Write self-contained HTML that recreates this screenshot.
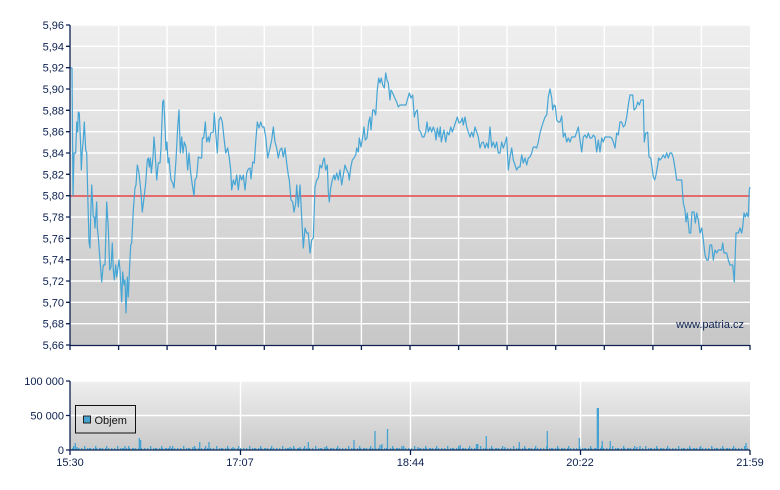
<!DOCTYPE html>
<html><head><meta charset="utf-8"><style>
html,body{margin:0;padding:0;background:#fff;}
svg{display:block;}
text{font-family:"Liberation Sans",Arial,sans-serif;font-size:11px;fill:#0c2050;}
</style></head><body>
<svg width="780" height="490" viewBox="0 0 780 490" xmlns="http://www.w3.org/2000/svg">
<defs>
<linearGradient id="g1" x1="0" y1="0" x2="0" y2="1"><stop offset="0" stop-color="#efefef"/><stop offset="1" stop-color="#c7c7c7"/></linearGradient>
<linearGradient id="g2" x1="0" y1="0" x2="0" y2="1"><stop offset="0" stop-color="#efefef"/><stop offset="1" stop-color="#c9c9c9"/></linearGradient>
<pattern id="pA" x="72" y="448" width="3" height="2" patternUnits="userSpaceOnUse"><rect x="0" y="0" width="1.3" height="2" fill="#45a3d2"/></pattern>
<pattern id="pB" x="73" y="446" width="11" height="4" patternUnits="userSpaceOnUse"><rect x="0" y="0" width="1.3" height="4" fill="#45a3d2"/><rect x="5" y="2" width="1.3" height="2" fill="#45a3d2"/></pattern>
</defs>
<!-- main plot -->
<rect x="70" y="25" width="680" height="320" fill="url(#g1)"/>
<g stroke="#ffffff" stroke-width="1.4">
<line x1="70" y1="25" x2="750" y2="25"/>
<line x1="70" y1="46.3" x2="750" y2="46.3"/>
<line x1="70" y1="67.7" x2="750" y2="67.7"/>
<line x1="70" y1="89" x2="750" y2="89"/>
<line x1="70" y1="110.3" x2="750" y2="110.3"/>
<line x1="70" y1="131.7" x2="750" y2="131.7"/>
<line x1="70" y1="153" x2="750" y2="153"/>
<line x1="70" y1="174.3" x2="750" y2="174.3"/>
<line x1="70" y1="217" x2="750" y2="217"/>
<line x1="70" y1="238.3" x2="750" y2="238.3"/>
<line x1="70" y1="259.7" x2="750" y2="259.7"/>
<line x1="70" y1="281" x2="750" y2="281"/>
<line x1="70" y1="302.3" x2="750" y2="302.3"/>
<line x1="70" y1="323.7" x2="750" y2="323.7"/>
<line x1="118.6" y1="25" x2="118.6" y2="345"/>
<line x1="167.1" y1="25" x2="167.1" y2="345"/>
<line x1="215.7" y1="25" x2="215.7" y2="345"/>
<line x1="264.3" y1="25" x2="264.3" y2="345"/>
<line x1="312.9" y1="25" x2="312.9" y2="345"/>
<line x1="361.4" y1="25" x2="361.4" y2="345"/>
<line x1="410" y1="25" x2="410" y2="345"/>
<line x1="458.6" y1="25" x2="458.6" y2="345"/>
<line x1="507.1" y1="25" x2="507.1" y2="345"/>
<line x1="555.7" y1="25" x2="555.7" y2="345"/>
<line x1="604.3" y1="25" x2="604.3" y2="345"/>
<line x1="652.9" y1="25" x2="652.9" y2="345"/>
<line x1="701.4" y1="25" x2="701.4" y2="345"/>
</g>
<line x1="70" y1="196" x2="750" y2="196" stroke="#e36b6b" stroke-width="2"/>
<polyline fill="none" stroke="#45a5d5" stroke-width="1.2" stroke-linejoin="round" points="70,68 72,68 73,196 74,153 75.7,153 76.7,122 77.7,132 78.3,112 79.3,113 80.7,147 81.3,170 82.3,150 83.3,140 84.3,122 85.7,150 86.7,153 87.7,193 89,242 90,248 90.7,217 91.7,185 93.3,217 94.3,217 95,228 96.7,202 97.3,228 98.3,237 100,260 101.7,282 103.3,265 105,265 106.7,202 108.3,228 109.7,270 111,267 112.3,243 113.3,270 114.3,280 115.7,265 116.7,277 117.7,270 119,260 120,270 121.7,302 122.7,272 124,285 125,280 126,313 127.3,277 128.3,297 129.7,265 130.7,245 131.7,243 133.3,210 135,188 136,185 137.3,165 139,173 141,193 142.3,212 144,198 145.7,183 147.3,160 148.3,158 149.3,167 150.3,158 151.3,173 153,157 154,137 155,150 156.7,180 158.3,163 160,163 161,148 162.7,102 163.7,100 164.7,120 166,150 167,142 168,163 169,158 170,170 171,180 172.7,183 174,188 176,160 177.7,127 179,110 180.3,153 181.7,137 183,153 184.3,142 186,147 187.7,170 189,153 190.7,173 192.3,185 194,196 195,180 196.7,177 198.3,157 200,158 201.7,158 202.3,138 203.7,138 205.3,122 206.7,142 208.3,137 209.3,142 210.7,133 213.3,132 214.3,113 215.7,133 217.3,153 219,120 220.7,117 222.3,122 224,138 225.7,153 227.7,148 229.3,158 230.7,170 231.7,190 233.3,180 235,185 236.7,175 238.3,190 240,175 241.7,180 243.3,175 245,190 246.7,173 248.3,169 250,168 251,179 252.7,162 254.3,163 255.7,142 257.3,122 259,128 260.7,122 262.3,127 264,127 265.7,137 267.7,158 270,148 271.7,140 273.3,127 275,142 276.7,148 278.3,158 280,150 281.7,148 283.3,157 285,148 286.7,163 288.3,175 289.3,180 291,200 292.7,202 294,212 295.7,203 296.7,185 298.3,207 300,185 301.7,217 303.3,248 305,228 306.7,233 308.3,233 310,253 311.7,240 313.3,238 315,187 316.7,180 318.3,178 320,165 321.7,168 323.3,160 324.3,158 325.7,170 327.3,165 328.3,192 329.3,202 330.7,188 332.3,180 334,175 335,180 336.7,173 338.3,180 340,170 341.7,185 343.3,175 345,165 346.7,170 348.3,173 349.3,180 350.7,168 352.3,160 354,158 355.7,155 356.7,148 358.3,152 359.3,138 361,147 362.7,137 364,127 365.3,140 367,138 368.7,122 370,117 371,130 372.7,110 374,110 375.7,115 377.3,90 378.7,78 380,83 381.3,78 382.7,85 384.3,88 385.7,73 387,80 388.3,83 390,100 391,90 392.7,93 394.3,97 396.7,102 398.3,107 400,105 403.3,105 406,105 407.3,100 409.3,93 411,98 412.7,95 414.3,117 415.7,112 417.3,110 419,130 420.7,132 422.3,137 424,137 425.7,132 427,122 428.3,132 430,127 431.7,132 433.3,127 435,132 436,140 437.3,128 439,137 440.3,127 441.3,142 442.7,135 444,130 445.7,142 447.3,132 449,135 450.7,127 452.3,132 454,127 455.7,122 457.3,117 459,123 460.7,122 462.3,118 463.3,125 465,117 466.7,127 468.3,132 470,137 471.7,132 473.3,137 475,127 476.7,132 478.3,137 480,148 481.7,143 483.3,142 485,148 486.7,143 488.3,148 490,127 491.7,147 493.3,142 495,148 496.7,142 498.3,153 500,153 501.7,142 503.3,148 505,143 506.7,137 508.3,170 510,157 511.7,148 513.3,160 515,165 516.7,170 518.3,167 520,167 521.7,155 523.3,163 525,158 526.7,165 528.3,158 530,157 531.7,153 533.3,147 535,147 536.7,148 538.3,142 540,133 541.7,127 543.3,122 545,117 546.7,115 548.3,97 550,89 551.7,98 552.7,110 554,105 555.3,106 556.7,120 558.3,122 560,122 561.7,116 563.3,137 565,133 566.7,142 568.3,138 570,142 571.7,137 573.3,137 575,137 576.7,132 578.3,127 580,140 581.7,152 583.3,137 585,135 586.7,138 588.3,133 590,138 591.7,138 593.3,135 595,137 596.7,152 598.3,140 600,152 601.7,138 603.3,142 605,137 606.7,137 610,137 611.7,138 613.3,142 615,148 616.7,133 618.3,135 620,122 621.7,122 623.3,127 625,125 626.7,117 628.3,105 630,95 632.7,95 634,110 636,108 637.7,102 639.3,105 641,100 643.3,100 644.3,142 645.7,133 646.7,133 647.7,132 649,157 650.7,158 652,167 653.3,177 654.7,180 656,175 657.7,165 658.7,158 660,160 661.7,158 663.3,155 665,158 666.7,153 668.3,158 670,153 671.7,153 673.3,158 675,168 676.7,180 681.7,180 683.3,203 685,210 686,222 687.3,213 689.3,233 690.7,233 692,212 694,212 695.3,223 696.7,213 698.3,220 700,233 701.7,228 703.3,240 705,255 706.7,260 708.3,260 710,245 711.7,245 713.3,260 715,250 716.7,253 718.3,250 721.7,250 722.7,243 724,253 726.7,253 728.3,260 730,265 732.7,265 734.3,282 736,233 738.3,233 740,228 741.7,233 742.7,227 744,213 745.3,217 746.7,213 748.3,217 749.3,190 750,187"/>
<!-- main axes -->
<g stroke="#0c2050" stroke-width="1.3">
<line x1="70" y1="25" x2="70" y2="346"/>
<line x1="70" y1="345.5" x2="750" y2="345.5"/>
<path d="M66 25H70M66 46.3H70M66 67.7H70M66 89H70M66 110.3H70M66 131.7H70M66 153H70M66 174.3H70M66 195.7H70M66 217H70M66 238.3H70M66 259.7H70M66 281H70M66 302.3H70M66 323.7H70M66 345H70"/>
<path d="M70 345V350M118.6 345V350M167.1 345V350M215.7 345V350M264.3 345V350M312.9 345V350M361.4 345V350M410 345V350M458.6 345V350M507.1 345V350M555.7 345V350M604.3 345V350M652.9 345V350M701.4 345V350M750 345V350"/>
</g>
<g text-anchor="end">
<text x="64" y="29">5,96</text>
<text x="64" y="50.3">5,94</text>
<text x="64" y="71.7">5,92</text>
<text x="64" y="93">5,90</text>
<text x="64" y="114.3">5,88</text>
<text x="64" y="135.7">5,86</text>
<text x="64" y="157">5,84</text>
<text x="64" y="178.3">5,82</text>
<text x="64" y="199.7">5,80</text>
<text x="64" y="221">5,78</text>
<text x="64" y="242.3">5,76</text>
<text x="64" y="263.7">5,74</text>
<text x="64" y="285">5,72</text>
<text x="64" y="306.3">5,70</text>
<text x="64" y="327.7">5,68</text>
<text x="64" y="349">5,66</text>
</g>
<text x="744" y="328" text-anchor="end">www.patria.cz</text>

<!-- volume plot -->
<rect x="70" y="381" width="680" height="69" fill="url(#g2)"/>
<g stroke="#ffffff" stroke-width="1.4">
<line x1="70" y1="381" x2="750" y2="381"/>
<line x1="70" y1="415.5" x2="750" y2="415.5"/>
<line x1="240.5" y1="381" x2="240.5" y2="450"/>
<line x1="410.5" y1="381" x2="410.5" y2="450"/>
<line x1="580.5" y1="381" x2="580.5" y2="450"/>
</g>
<rect x="72" y="448" width="676" height="2" fill="url(#pA)"/>
<rect x="73" y="446" width="675" height="4" fill="url(#pB)"/>
<path fill="none" stroke="#45a3d2" stroke-width="1.3" d="M75.3 450V443M77 450V447M125 450V446M139.3 450V438M140.6 450V440M170 450V446M193 450V447M199.7 450V442M209 450V442M233 450V447M290 450V447M300 450V447M308.3 450V442M325 450V447M354 450V440M375 450V431M380 450V445M382 450V444M387.5 450V429M402 450V446M418 450V447M460.3 450V445M476.5 450V444M477.8 450V444M486.3 450V436M505 450V447M519.3 450V442M547.3 450V431M579.3 450V438M602.3 450V441M610.3 450V441M637 450V447M640 450V446M700 450V447M712 450V447M746 450V443"/>
<rect x="596.7" y="408" width="2.3" height="42" fill="#45a3d2"/>
<g stroke="#0c2050" stroke-width="1.3">
<line x1="70" y1="381" x2="70" y2="450.5"/>
<line x1="70" y1="450" x2="750" y2="450"/>
<path d="M66 381H70M66 415.5H70M66 450H70"/>
<path d="M70 450V455M240.5 450V455M410.5 450V455M580.5 450V455M750 450V455"/>
</g>
<g text-anchor="end">
<text x="64" y="385">100 000</text>
<text x="64" y="419.5">50 000</text>
<text x="64" y="454">0</text>
</g>
<g text-anchor="middle">
<text x="70" y="466">15:30</text>
<text x="240" y="466">17:07</text>
<text x="410.5" y="466">18:44</text>
<text x="580" y="466">20:22</text>
<text x="750" y="466">21:59</text>
</g>
<!-- legend -->
<rect x="75.5" y="405.5" width="60" height="27.5" fill="none" stroke="#111" stroke-width="1"/>
<rect x="83.5" y="416" width="7" height="7" fill="#45a3d2" stroke="#222" stroke-width="1"/>
<text x="94.5" y="424" style="fill:#111">Objem</text>
</svg>
</body></html>
